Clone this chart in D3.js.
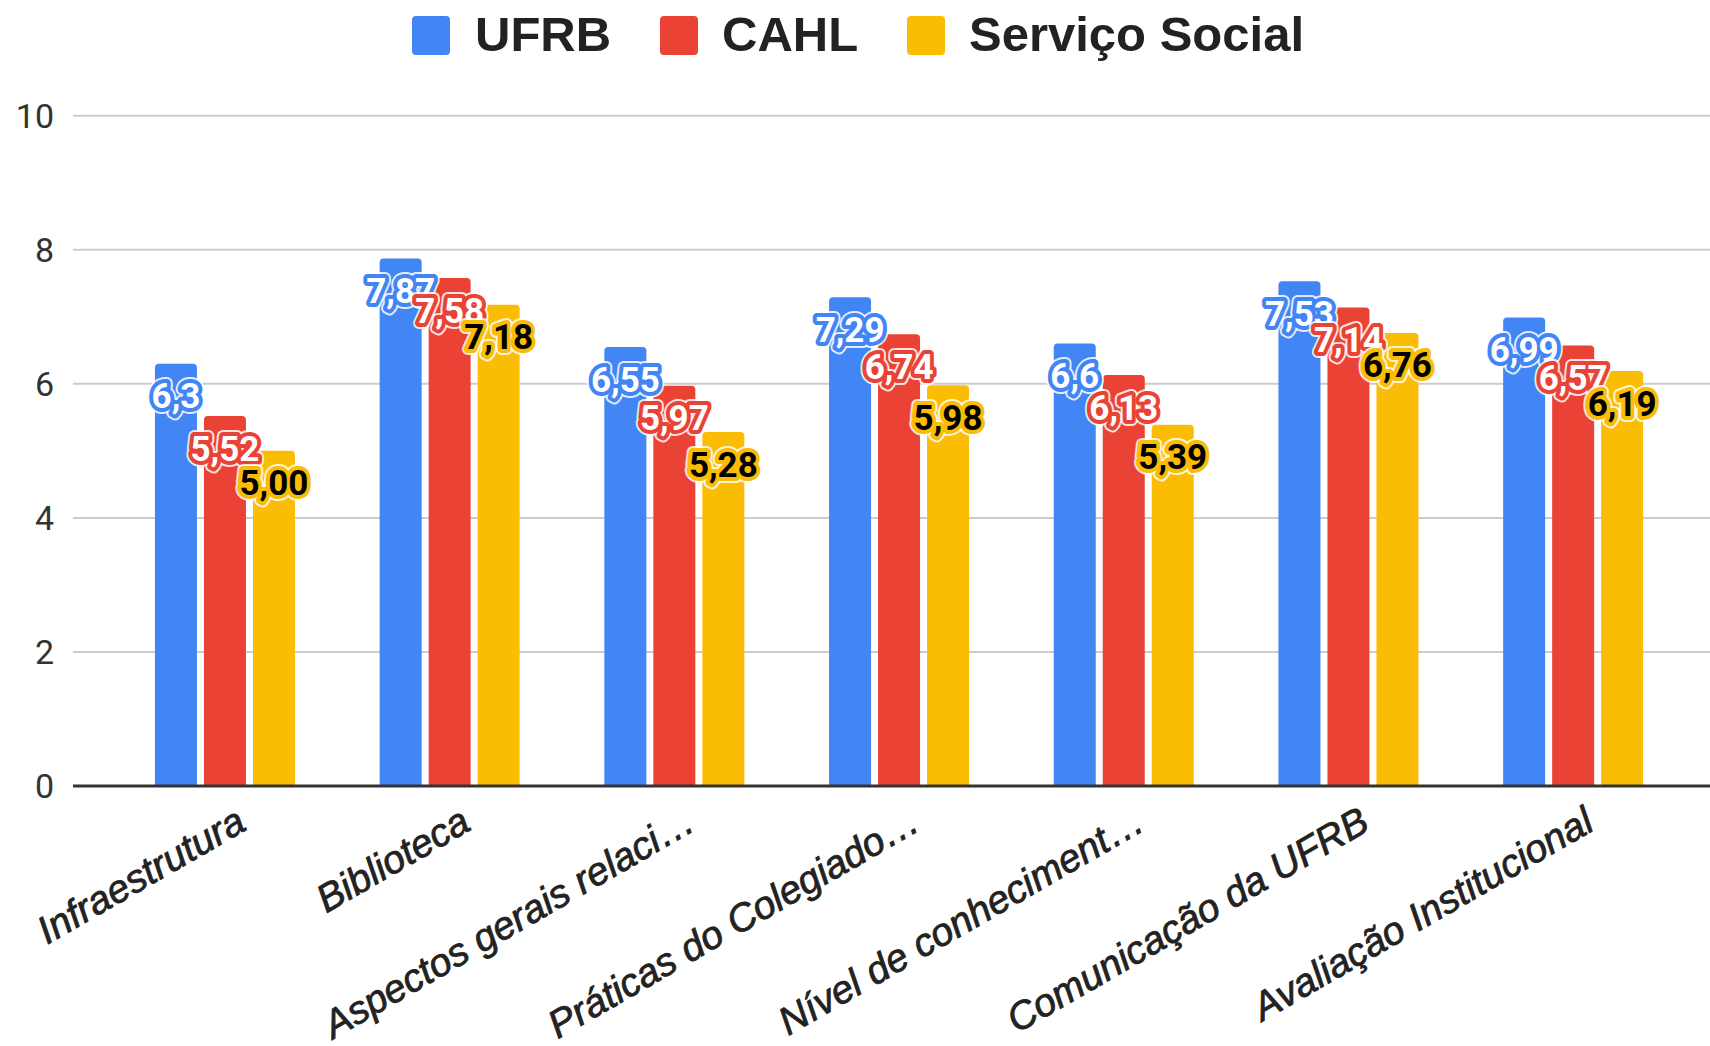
<!DOCTYPE html>
<html>
<head>
<meta charset="utf-8">
<script src="https://cdnjs.cloudflare.com/ajax/libs/d3/7.8.5/d3.min.js"></script>
<style>
  body { margin: 0; background: #fff; }
  svg { display: block; }
</style>
</head>
<body>
<div id="chart"></div>
<script>
// categories and series
var categories = ["Infraestrutura", "Biblioteca", "Aspectos gerais relaci…", "Práticas do Colegiado…",
                  "Nível de conheciment…", "Comunicação da UFRB", "Avaliação Institucional"];
var seriesNames = ["UFRB", "CAHL", "Serviço Social"];
var ufrb   = [6.3, 7.87, 6.55, 7.29, 6.6, 7.53, 6.99];
var cahl   = [5.52, 7.58, 5.97, 6.74, 6.13, 7.14, 6.57];
var social = [5.00, 7.18, 5.28, 5.98, 5.39, 6.76, 6.19];
var yTicks = [0, 2, 4, 6, 8, 10];

var colors = ["#4285f4", "#ea4335", "#fbbc04"];
var labelFill = ["#fff", "#fff", "#000"];

var width = 1710, height = 1046;
var values = [ufrb, cahl, social];

// label formats: first two drop trailing zeros, the last keeps two decimals
var fmtTrim = function(v) { return String(+v.toFixed(2)).replace(".", ","); };
var fmtFixed = function(v) { return v.toFixed(2).replace(".", ","); };
var formats = [fmtTrim, fmtTrim, fmtFixed];

var svg = d3.select("#chart").append("svg")
    .attr("width", width)
    .attr("height", height);

var x0 = d3.scaleBand()
    .domain(categories)
    .range([112.6, 1685.5])
    .paddingInner(0.377)
    .paddingOuter(0.1885);

var x1 = d3.scaleBand()
    .domain(d3.range(seriesNames.length))
    .range([0, x0.bandwidth()])
    .paddingInner(1 / 7);

var y = d3.scaleLinear()
    .domain([0, 10])
    .range([786, 115.7]);

// gridlines + y labels
var grid = svg.append("g");
grid.selectAll("line")
    .data(yTicks.filter(function(d) { return d > 0; }))
  .enter().append("line")
    .attr("x1", 73).attr("x2", width)
    .attr("y1", function(d) { return y(d); })
    .attr("y2", function(d) { return y(d); })
    .attr("stroke", "#cccccc")
    .attr("stroke-width", 2);

grid.selectAll("text")
    .data(yTicks)
  .enter().append("text")
    .attr("x", 54)
    .attr("y", function(d) { return y(d); })
    .attr("dy", "0.36em")
    .attr("text-anchor", "end")
    .style("font-family", "Roboto, Arial, sans-serif")
    .style("font-size", "34px")
    .style("fill", "#333")
    .text(function(d) { return d; });

// bars with slightly rounded top corners
var barPath = function(xl, w, yt, yb) {
  var r = Math.min(4, (yb - yt));
  return "M" + xl + "," + yb +
         "V" + (yt + r) +
         "Q" + xl + "," + yt + " " + (xl + r) + "," + yt +
         "H" + (xl + w - r) +
         "Q" + (xl + w) + "," + yt + " " + (xl + w) + "," + (yt + r) +
         "V" + yb + "Z";
};

var groups = svg.append("g").selectAll("g")
    .data(categories)
  .enter().append("g")
    .attr("transform", function(d) { return "translate(" + x0(d) + ",0)"; });

groups.selectAll("path")
    .data(function(d, i) { return values.map(function(s, k) { return {k: k, v: s[i]}; }); })
  .enter().append("path")
    .attr("d", function(d) { return barPath(x1(d.k), x1.bandwidth(), y(d.v), y(0)); })
    .attr("fill", function(d) { return colors[d.k]; });

// baseline
svg.append("line")
    .attr("x1", 73).attr("x2", width)
    .attr("y1", y(0)).attr("y2", y(0))
    .attr("stroke", "#333")
    .attr("stroke-width", 3);

// value labels, drawn series by series so later ones sit on top
seriesNames.forEach(function(name, k) {
  var lab = svg.append("g");
  var sel = lab.selectAll("g")
      .data(values[k])
    .enter().append("g")
      .attr("transform", function(d, i) {
        return "translate(" + (x0(categories[i]) + x1(k) + x1.bandwidth() / 2) + "," + (y(d) + 32) + ")";
      });
  var style = function(s) {
    s.attr("text-anchor", "middle")
     .attr("dy", "0.36em")
     .style("font-family", "Roboto, Arial, sans-serif")
     .style("font-weight", "bold")
     .style("font-size", "35px")
     .text(function(d) { return formats[k](d); });
  };
  sel.append("text").call(style)
      .attr("stroke", "#fff").attr("stroke-width", 12)
      .attr("stroke-linejoin", "round").attr("fill", "#fff")
      .attr("stroke-opacity", 0.85);
  sel.append("text").call(style)
      .attr("stroke", colors[k]).attr("stroke-width", 8)
      .attr("stroke-linejoin", "round").attr("fill", colors[k]);
  sel.append("text").call(style)
      .attr("fill", labelFill[k]);
});

// category labels, rotated (thin stroke gives a semi-bold look)
svg.append("g").selectAll("text")
    .data(categories)
  .enter().append("text")
    .attr("transform", function(d) {
      return "translate(" + (x0(d) + x0.bandwidth() / 2 + 23) + ",829) rotate(-30)";
    })
    .attr("text-anchor", "end")
    .style("font-family", "'Liberation Sans', Arial, sans-serif")
    .style("font-style", "italic")
    .style("font-size", "39px")
    .style("fill", "#222")
    .style("stroke", "#222")
    .style("stroke-width", "0.8px")
    .text(function(d) { return d; });

// legend
var legendItems = [
  {name: seriesNames[0], sx: 412, tx: 475},
  {name: seriesNames[1], sx: 660, tx: 722},
  {name: seriesNames[2], sx: 907, tx: 969}
];
var legend = svg.append("g");
legend.selectAll("rect")
    .data(legendItems)
  .enter().append("rect")
    .attr("x", function(d) { return d.sx; })
    .attr("y", 16)
    .attr("width", 38).attr("height", 39)
    .attr("rx", 4)
    .attr("fill", function(d, i) { return colors[i]; });
legend.selectAll("text")
    .data(legendItems)
  .enter().append("text")
    .attr("x", function(d) { return d.tx; })
    .attr("y", 33)
    .attr("dy", "0.36em")
    .style("font-family", "'Liberation Sans', Arial, sans-serif")
    .style("font-weight", "bold")
    .style("font-size", "49px")
    .style("fill", "#222")
    .text(function(d) { return d.name; });
</script>
</body>
</html>
